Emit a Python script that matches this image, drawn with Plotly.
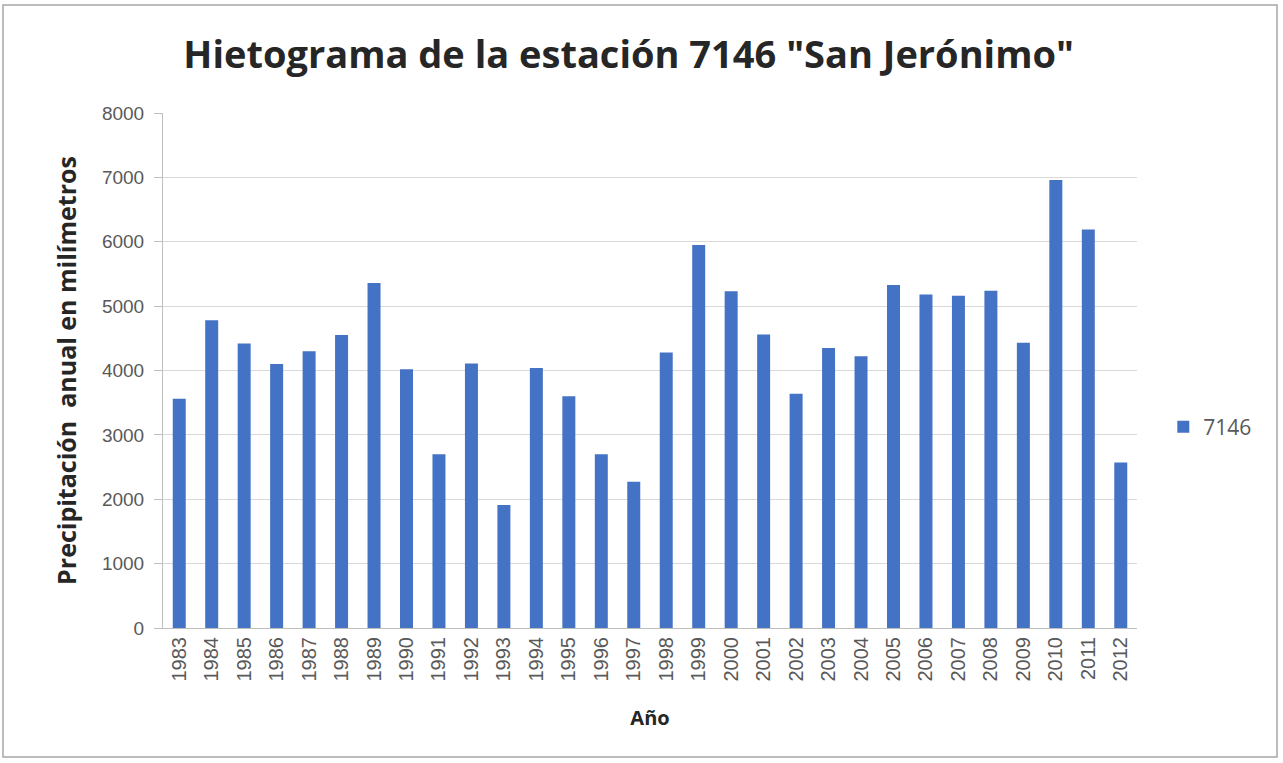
import plotly.graph_objects as go

# Annual precipitation (mm) at station 7146 "San Jerónimo"
years = [str(y) for y in range(1983, 2013)]
precip_mm = [
    3560, 4780, 4420, 4100, 4300, 4550, 5360, 4020, 2700, 4110,
    1910, 4040, 3600, 2700, 2270, 4280, 5950, 5230, 4560, 3640,
    4350, 4220, 5330, 5180, 5160, 5240, 4430, 6960, 6190, 2570,
]
y_ticks = [0, 1000, 2000, 3000, 4000, 5000, 6000, 7000, 8000]

BAR_COLOR = "#4472C4"
TEXT_GRAY = "#595959"
DARK = "#262626"
BOLD_FONT = "Open Sans, sans-serif"
TICK_FONT = "Liberation Sans, sans-serif"

fig = go.Figure()
fig.add_trace(go.Bar(
    x=years,
    y=precip_mm,
    name="7146",
    marker=dict(color=BAR_COLOR, line=dict(width=0)),
    width=0.4,
))

fig.update_layout(
    width=1283,
    height=763,
    paper_bgcolor="white",
    plot_bgcolor="white",
    margin=dict(l=163, r=146, t=113, b=135),
    title=dict(
        text='<b>Hietograma de la estación 7146 "San Jerónimo"</b>',
        x=0.49, xanchor="center",
        y=1 - 55 / 763, yanchor="middle",
        font=dict(family=BOLD_FONT, size=38, color=DARK),
    ),
    showlegend=True,
    legend=dict(
        x=1.027, xanchor="left",
        y=0.39, yanchor="middle",
        font=dict(family=BOLD_FONT, size=21, color=TEXT_GRAY),
        bgcolor="rgba(0,0,0,0)",
        itemwidth=30,
    ),
    xaxis=dict(
        type="category",
        tickangle=-90,
        tickfont=dict(family=TICK_FONT, size=20, color=TEXT_GRAY),
        showline=True, linecolor="#BFBFBF", linewidth=1,
        showgrid=False,
        ticks="",
        title=dict(
            text="<b>Año</b>",
            font=dict(family=BOLD_FONT, size=20, color=DARK),
            standoff=30,
        ),
    ),
    yaxis=dict(
        range=[0, 8000],
        tickvals=y_ticks,
        tickfont=dict(family=TICK_FONT, size=19, color=TEXT_GRAY),
        showline=True, linecolor="#BFBFBF", linewidth=1,
        showgrid=True, gridcolor="#D9D9D9", gridwidth=1,
        zeroline=False,
        ticks="outside", ticklen=8, tickcolor="#BFBFBF", tickwidth=1,
        ticklabelstandoff=6,
        title=dict(
            text="<b>Precipitación  anual en milímetros</b>",
            font=dict(family=BOLD_FONT, size=25, color=DARK),
            standoff=18,
        ),
    ),
    shapes=[
        dict(
            type="rect", xref="paper", yref="paper",
            x0=(3 - 163) / 974, x1=(1277 - 163) / 974,
            y0=(628 - 757) / 515, y1=(628 - 5) / 515,
            line=dict(color="#A6A6A6", width=1.5),
            fillcolor="rgba(0,0,0,0)",
            layer="below",
        )
    ],
)

fig.write_html("out.html")
